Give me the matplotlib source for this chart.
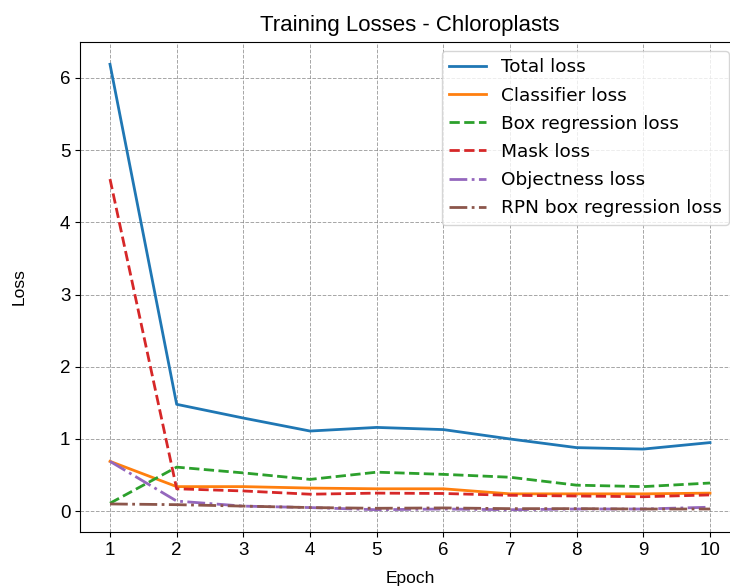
import matplotlib
matplotlib.use("Agg")
from matplotlib import pyplot as plt

plt.rcParams['font.family'] = ['Liberation Sans', 'DejaVu Sans']

epochs = [1, 2, 3, 4, 5, 6, 7, 8, 9, 10]
total_loss = [6.19, 1.48, 1.29, 1.11, 1.16, 1.13, 1.00, 0.88, 0.86, 0.95]
classifier_loss = [0.69, 0.34, 0.34, 0.32, 0.31, 0.31, 0.24, 0.24, 0.24, 0.25]
box_reg_loss = [0.11, 0.61, 0.53, 0.44, 0.54, 0.51, 0.47, 0.36, 0.34, 0.39]
mask_loss = [4.60, 0.31, 0.28, 0.235, 0.25, 0.245, 0.22, 0.21, 0.20, 0.225]
objectness_loss = [0.69, 0.14, 0.07, 0.05, 0.02, 0.03, 0.02, 0.03, 0.03, 0.055]
rpn_box_loss = [0.10, 0.09, 0.07, 0.05, 0.04, 0.045, 0.035, 0.035, 0.03, 0.03]

fig = plt.figure(figsize=(7.3, 5.88), dpi=100)
# axes runs past the right edge, as in the cropped reference
ax = fig.add_axes([80 / 730, 1 - 532 / 588, 660 / 730, 490 / 588])

ax.plot(epochs, total_loss, '-', color='#1f77b4', lw=2, label='Total loss')
ax.plot(epochs, classifier_loss, '-', color='#ff7f0e', lw=2, label='Classifier loss')
ax.plot(epochs, box_reg_loss, '--', color='#2ca02c', lw=2, label='Box regression loss')
ax.plot(epochs, mask_loss, '--', color='#d62728', lw=2, label='Mask loss')
ax.plot(epochs, objectness_loss, '-.', color='#9467bd', lw=2, label='Objectness loss')
ax.plot(epochs, rpn_box_loss, '-.', color='#8c564b', lw=2, label='RPN box regression loss')

ax.set_xticks(epochs)
ax.tick_params(labelsize=13.5)
ax.set_title('Training Losses - Chloroplasts', fontsize=16, pad=8)
ax.set_xlabel('Epoch', fontsize=12.5, labelpad=9)
ax.set_ylabel('Loss', fontsize=12.5, labelpad=24)
ax.grid(True, linestyle='--', color='gray', alpha=0.7, lw=0.7)
ax.legend(loc='upper right', prop={'family': 'DejaVu Sans', 'size': 13.3},
          labelspacing=0.55, borderaxespad=0.0,
          bbox_to_anchor=(729 / 730, 1 - 51 / 588), bbox_transform=fig.transFigure)

fig.savefig('out.png', dpi=100)
